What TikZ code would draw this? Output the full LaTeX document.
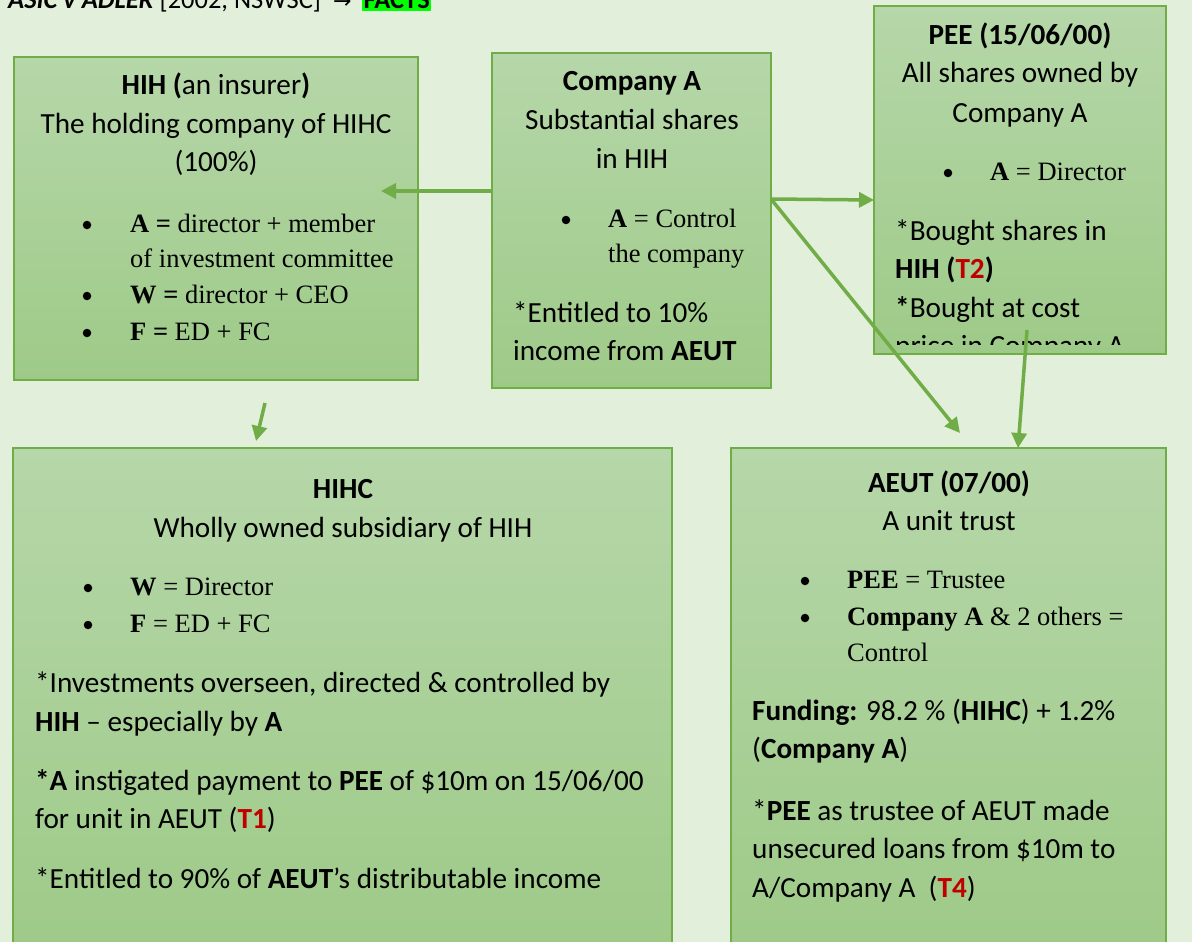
\documentclass[tikz,border=0pt]{standalone}
\usepackage{fontspec}
\setmainfont{Carlito}
\newfontfamily\tnrfam{Liberation Serif}
\newfontfamily\djfam{DejaVu Sans}
\usetikzlibrary{arrows.meta,shadings,calc}
\definecolor{bg}{HTML}{E2EFDA}
\definecolor{boxtop}{HTML}{B6D7A9}
\definecolor{boxbot}{HTML}{9ECA88}
\definecolor{boxline}{HTML}{70AD47}
\definecolor{arrc}{HTML}{70AD47}
\definecolor{tred}{HTML}{C00000}
\definecolor{hl}{HTML}{00FF00}
\newcommand\calf{\fontsize{29.2}{38}\selectfont}
\newcommand\tmsf{\tnrfam\fontsize{26.5}{36}\selectfont}
\newcommand\ttlf{\fontsize{26.5}{32}\selectfont}
\tikzset{
  box/.style={draw=boxline, line width=1.5pt, top color=boxtop, bottom color=boxbot, inner sep=0pt},
  tl/.style={anchor=base west, inner sep=0pt, font=\calf},
  tc/.style={anchor=base, inner sep=0pt, font=\calf},
  ts/.style={anchor=base west, inner sep=0pt, font=\tmsf},
  bul/.style={circle, fill=black, inner sep=0pt, minimum size=8.5pt},
  arr/.style={draw=arrc, line width=3.5pt, -{Triangle[length=15pt,width=15pt]}},
}
\begin{document}
\begin{tikzpicture}[x=1pt,y=-1pt]
\useasboundingbox (0,0) rectangle (1192,942);
\clip (0,0) rectangle (1192,942);
\fill[bg] (0,0) rectangle (1192,942);

% title (partly cut at top)
\node (ttl) [anchor=base west, inner sep=0pt, font=\ttlf] at (8,9)
  {\textbf{\textit{ASIC v ADLER}} [2002, NSWSC]};
\node (tarr) [anchor=base west, inner sep=0pt, font=\djfam\fontsize{22}{26}\selectfont] at (333,9) {→};
\node (facts) [anchor=base west, fill=hl, inner xsep=1.5pt, inner ysep=1.7pt, font=\ttlf\bfseries] at (362,9) {FACTS};

% boxes
\node (hih)  [box, minimum width=404pt, minimum height=323pt] at (216,218.5) {};
\node (compA)[box, minimum width=279pt, minimum height=335pt] at (631.5,220.5) {};
\node (pee)  [box, minimum width=292pt, minimum height=348pt] at (1020,180) {};
\node (hihc) [box, minimum width=659pt, minimum height=502pt] at (342.5,699) {};
\node (aeut) [box, minimum width=435pt, minimum height=502pt] at (948.5,699) {};

% HIH text
\node (h1) [tc] at (216,95) {\textbf{HIH (}an insurer\textbf{)}};
\node (h2) [tc] at (216,133) {The holding company of HIHC};
\node (h3) [tc] at (216,171) {(100\%)};
\node (hb1) [bul] at (87,225) {};
\node (h4) [ts] at (130,232) {\textbf{A =} director + member};
\node (h5) [ts] at (130,267) {of investment committee};
\node (hb2) [bul] at (87,296) {};
\node (h6) [ts] at (130,303) {\textbf{W =} director + CEO};
\node (hb3) [bul] at (87,333) {};
\node (h7) [ts] at (130,340) {\textbf{F =} ED + FC};

% Company A text
\node (a1) [tc] at (632,91) {\textbf{Company A}};
\node (a2) [tc] at (632,129) {Substantial shares};
\node (a3) [tc] at (632,168) {in HIH};
\node (ab1) [bul] at (566,220) {};
\node (a4) [ts] at (608,227) {\textbf{A} = Control};
\node (a5) [ts] at (608,262) {the company};
\node (a6) [tl] at (513,322) {*Entitled to 10\%};
\node (a7) [tl] at (513,360) {income from \textbf{AEUT}};

% PEE text (clipped at the box bottom)
\node (p1) [tc] at (1020,45) {\textbf{PEE (15/06/00)}};
\node (p2) [tc] at (1020,83) {All shares owned by};
\node (p3) [tc] at (1020,122) {Company A};
\node (pb1) [bul] at (948,173) {};
\node (p4) [ts] at (990,180) {\textbf{A} = Director};
\node (p5) [tl] at (895,240) {*Bought shares in};
\node (p6) [tl] at (895,278) {\textbf{HIH (\textcolor{tred}{T2})}};
\node (p7) [tl] at (895,317) {\textbf{*}Bought at cost};
\begin{scope}
\clip (874,300) rectangle (1166,344);
\node (p8) [tl] at (895,355) {price in Company A};
\end{scope}

% HIHC text
\node (c1) [tc] at (343,498) {\textbf{HIHC}};
\node (c2) [tc] at (343,537) {Wholly owned subsidiary of HIH};
\node (cb1) [bul] at (88,588) {};
\node (c3) [ts] at (130,595) {\textbf{W} = Director};
\node (cb2) [bul] at (88,625) {};
\node (c4) [ts] at (130,632) {\textbf{F} = ED + FC};
\node (c5) [tl] at (35,692) {*Investments overseen, directed \& controlled by};
\node (c6) [tl] at (35,731) {\textbf{HIH} – especially by \textbf{A}};
\node (c7) [tl] at (35,790) {\textbf{*A} instigated payment to \textbf{PEE} of \$10m on 15/06/00};
\node (c8) [tl] at (35,828) {for unit in AEUT (\textbf{\textcolor{tred}{T1}})};
\node (c9) [tl] at (35,888) {*Entitled to 90\% of \textbf{AEUT}’s distributable income};

% AEUT text
\node (e1) [tc] at (949,492) {\textbf{AEUT (07/00)}};
\node (e2) [tc] at (949,530) {A unit trust};
\node (eb1) [bul] at (805,581) {};
\node (e3) [ts] at (847,588) {\textbf{PEE} = Trustee};
\node (eb2) [bul] at (805,618) {};
\node (e4) [ts] at (847,625) {\textbf{Company A} \& 2 others =};
\node (e5) [ts] at (847,661) {Control};
\node (e6) [tl] at (752,720) {\textbf{Funding:} 98.2 \% (\textbf{HIHC}) + 1.2\%};
\node (e7) [tl] at (752,758) {(\textbf{Company A})};
\node (e8) [tl] at (752,820) {*\textbf{PEE} as trustee of AEUT made};
\node (e9) [tl] at (752,858) {unsecured loans from \$10m to};
\node (e10) [tl] at (752,897) {A/Company A\ \ (\textbf{\textcolor{tred}{T4}})};

% connector end points
\coordinate (hihTip) at (381,191);
\coordinate (aOut) at (771,199);
\coordinate (peeIn) at (874,200);
\coordinate (aeutTipA) at (960,433);
\coordinate (peeOut) at (1027,330);
\coordinate (aeutTipB) at (1018,448);
\coordinate (hihOut) at (265,403);
\coordinate (hihcTip) at (256,441);

% connectors
\draw[arr] (compA.west |- hihTip) -- (hihTip);
\draw[arr] (aOut) -- (peeIn);
\draw[arr] (aOut) -- (aeutTipA);
\draw[arr] (peeOut) -- (aeutTipB);
\draw[arr] (hihOut) -- (hihcTip);
\end{tikzpicture}
\end{document}
